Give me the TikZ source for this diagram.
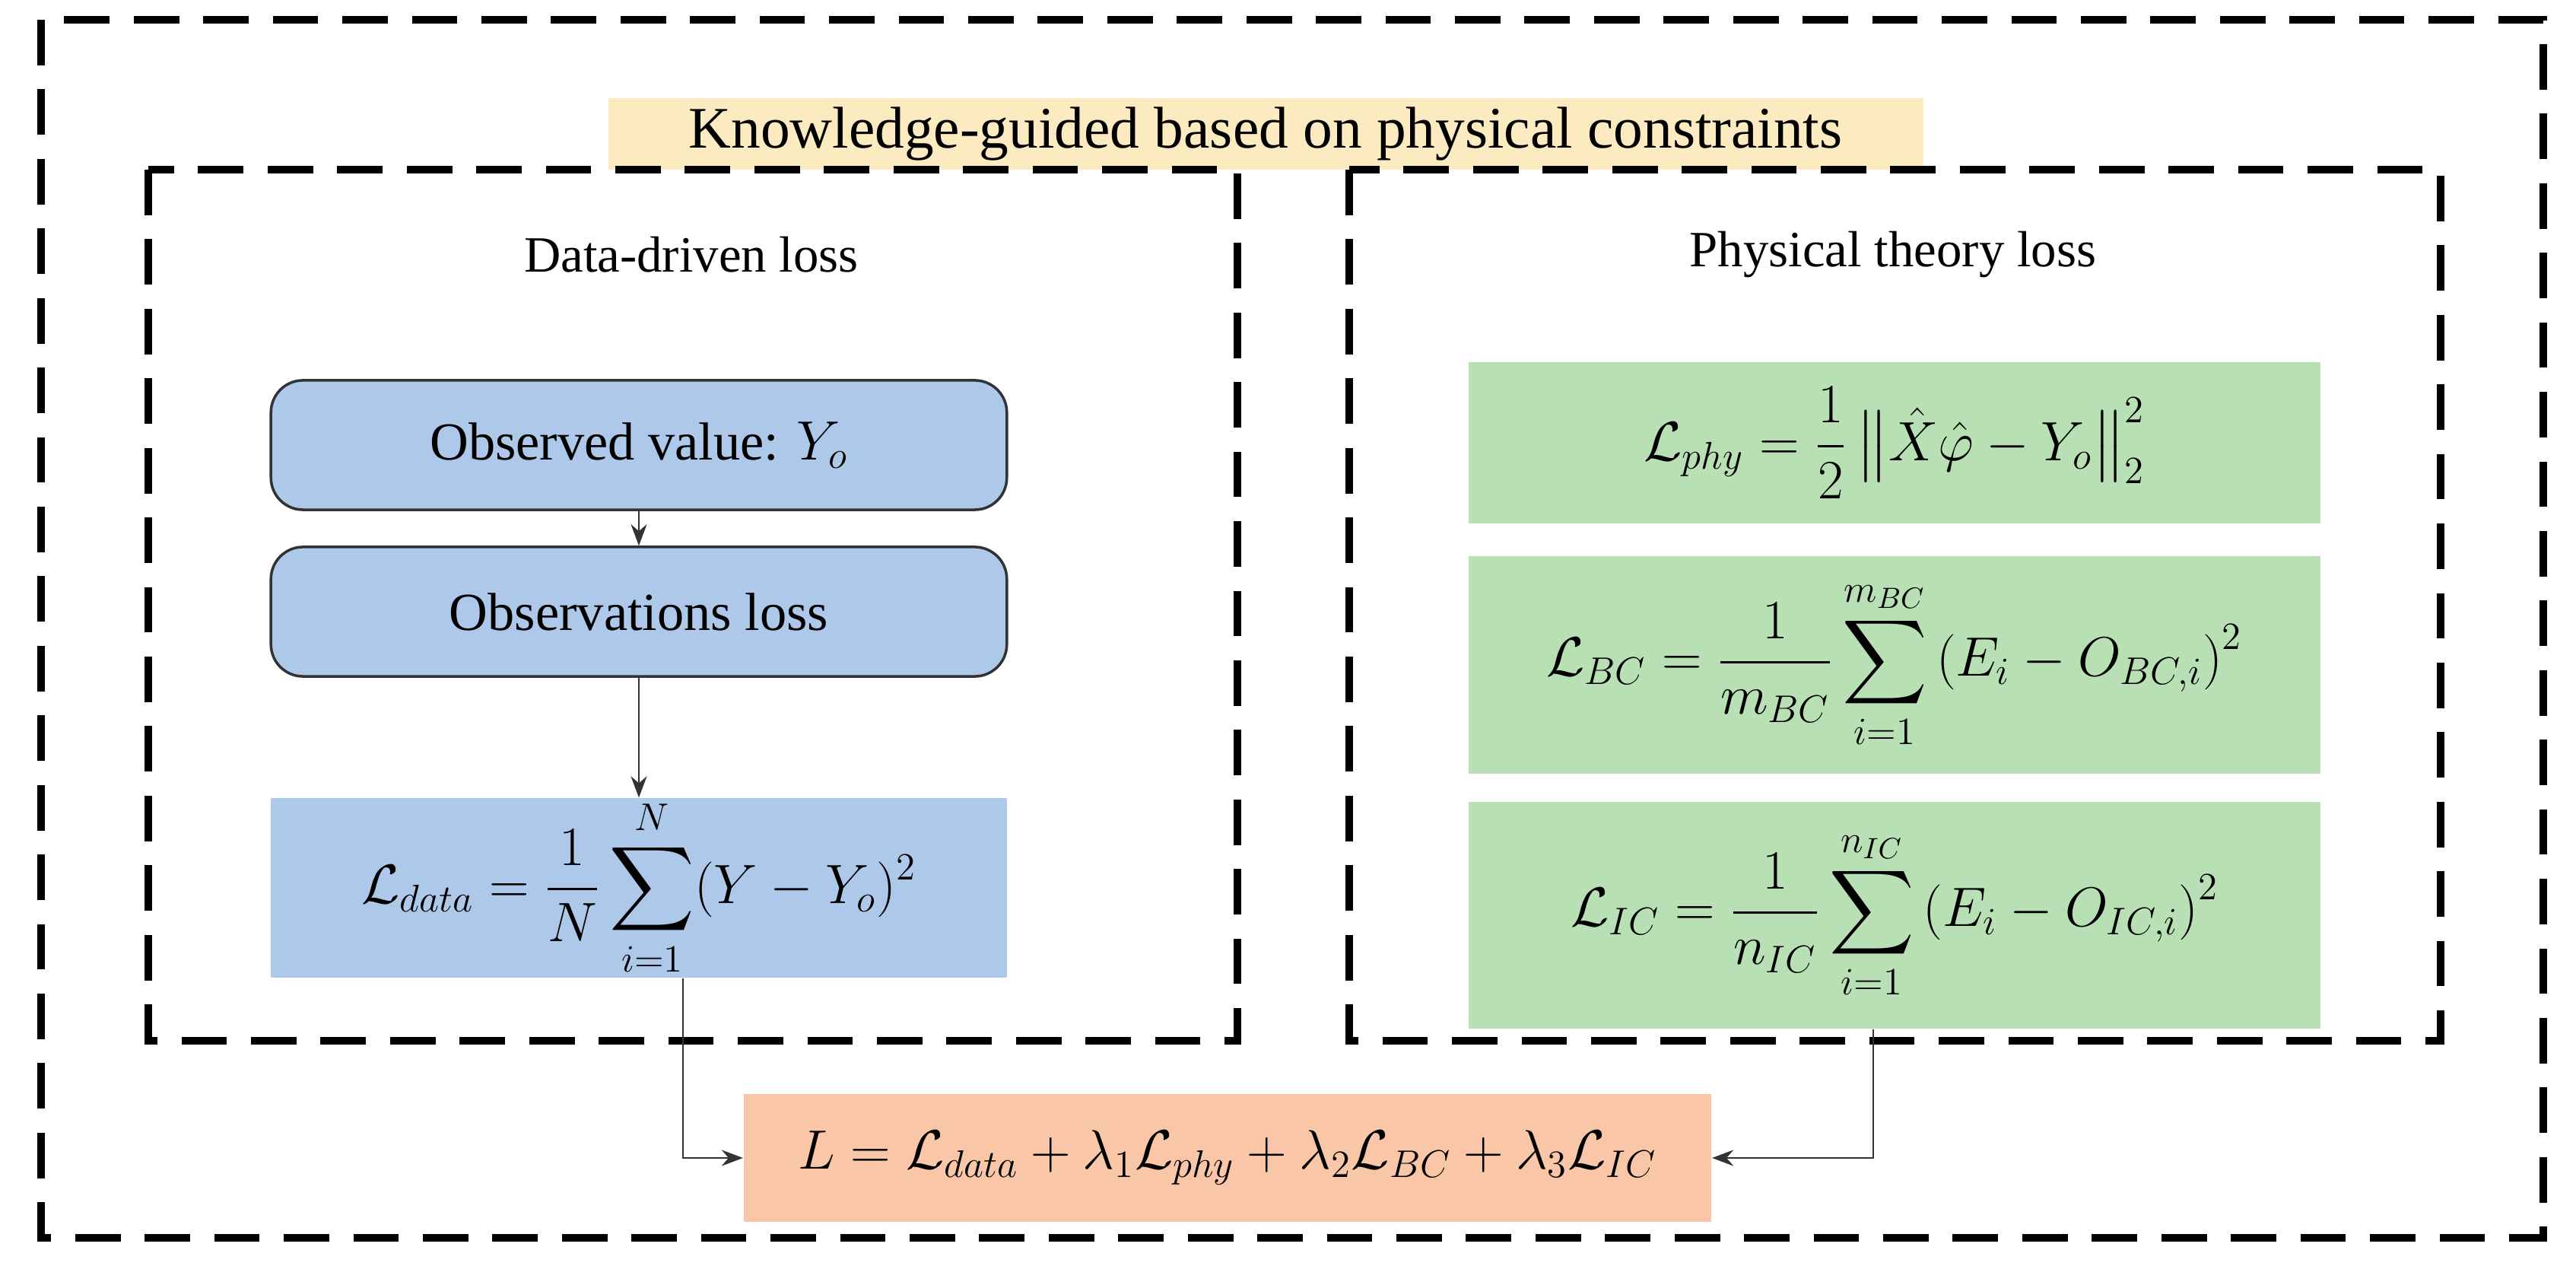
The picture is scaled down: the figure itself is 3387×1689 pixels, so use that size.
\documentclass[tikz,border=0pt]{standalone}
\usepackage{amsmath,amssymb}
\usepackage{fontspec}
\setmainfont{Liberation Serif}
\usetikzlibrary{arrows.meta}
\definecolor{blu}{HTML}{AEC8E9}
\definecolor{grn}{HTML}{B9E0B4}
\definecolor{yel}{HTML}{FCEBC0}
\definecolor{ora}{HTML}{F9C7A8}
\tikzset{
 dbox/.style={draw, dashed, line width=2.6pt, dash pattern=on 17pt off 9pt},
 rbox/.style={draw=black!80, fill=blu, rounded corners=12pt, line width=1pt, minimum width=9.67cm, minimum height=1.7cm, font=\fontsize{20}{22}\selectfont},
 fbox/.style={inner sep=0pt, font=\fontsize{22}{24}\selectfont},
 arr/.style={-{Stealth[length=8pt,width=6pt]}, line width=0.6pt, draw=black!80},
 lbl/.style={font=\fontsize{19}{21}\selectfont}
}
\begin{document}
\begin{tikzpicture}[x=0.01cm,y=-0.01cm]
\useasboundingbox (0,0) rectangle (3387,1689);
\draw[dbox] (54,26) rectangle (3344,1627);
\node[fill=yel, minimum width=17.28cm, minimum height=0.93cm, font=\fontsize{22}{24}\selectfont] (title) at (1664,176) {Knowledge-guided based on physical constraints};
\draw[dbox] (195,223) rectangle (1627,1368);
\draw[dbox] (1774,223) rectangle (3209,1368);
\node[lbl] (dtl) at (909,335) {Data-driven loss};
\node[lbl] (ptl) at (2489,335) {Physical theory loss};
\node[rbox] (obs) at (840,585) {Observed value: $Y_o$};
\node[rbox] (oloss) at (840,804) {Observations loss};
\node[fill=blu, minimum width=9.67cm, minimum height=2.27cm, fbox] (data) at (840,1167) {$\mathcal{L}_{data}=\dfrac{1}{N}\displaystyle\sum_{i=1}^{N}(Y-Y_o)^2$};
\node[fill=grn, minimum width=11.19cm, minimum height=2.12cm, fbox] (g1) at (2491,582) {$\mathcal{L}_{phy}=\dfrac{1}{2}\left\|\hat{X}\hat{\varphi}-Y_o\right\|_2^2$};
\node[fill=grn, minimum width=11.19cm, minimum height=2.86cm, fbox] (g2) at (2491,874) {$\mathcal{L}_{BC}=\dfrac{1}{m_{BC}}\displaystyle\sum_{i=1}^{m_{BC}}\left(E_i-O_{BC,i}\right)^2$};
\node[fill=grn, minimum width=11.19cm, minimum height=2.98cm, fbox] (g3) at (2491,1203) {$\mathcal{L}_{IC}=\dfrac{1}{n_{IC}}\displaystyle\sum_{i=1}^{n_{IC}}\left(E_i-O_{IC,i}\right)^2$};
\node[fill=ora, minimum width=12.72cm, minimum height=1.67cm, fbox] (tot) at (1614,1522) {$L=\mathcal{L}_{data}+\lambda_1\mathcal{L}_{phy}+\lambda_2\mathcal{L}_{BC}+\lambda_3\mathcal{L}_{IC}$};
\draw[arr] (obs) -- (oloss);
\draw[arr] (oloss) -- (data);
\draw[arr] (data.south -| 898,0) |- (tot.west);
\draw[arr] (g3.south -| 2463,0) |- (tot.east);
\end{tikzpicture}
\end{document}
